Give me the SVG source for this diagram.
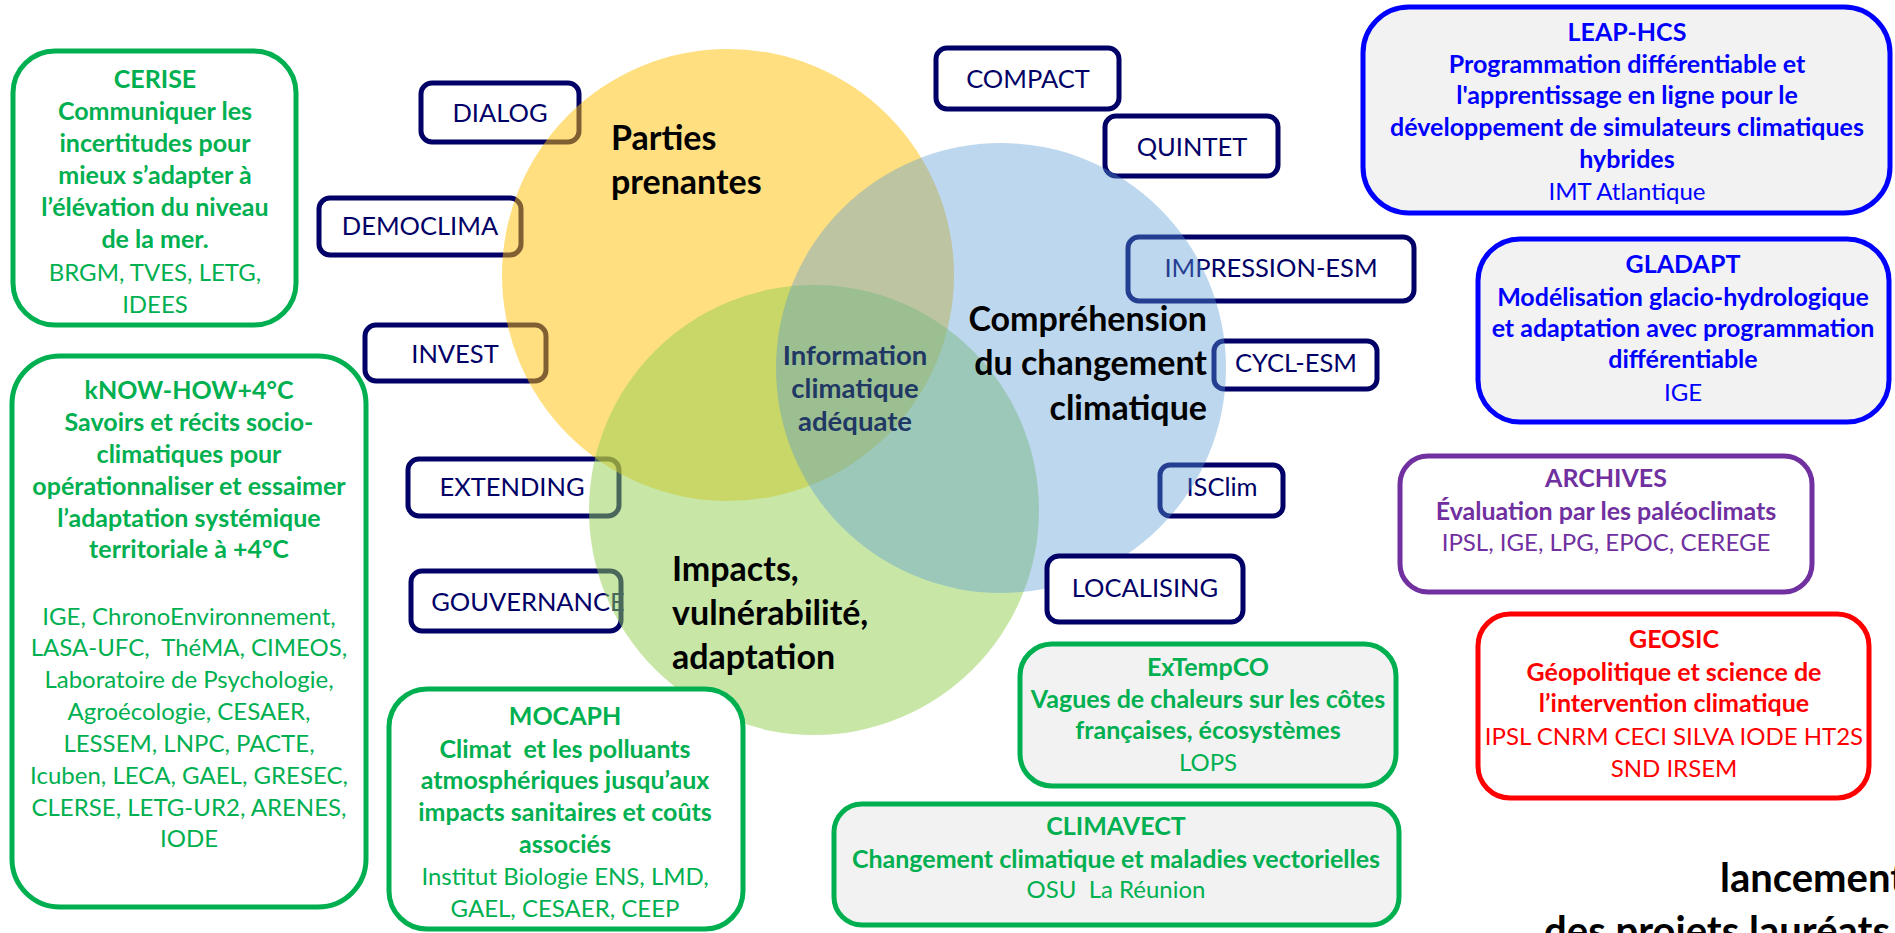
<svg xmlns="http://www.w3.org/2000/svg" width="1895" height="933" viewBox="0 0 1895 933">
<style>
text{font-family:Lato,"Liberation Sans",sans-serif}
.p{font-size:24px;text-anchor:middle}
.b{font-weight:700;font-size:25px}
.lbl{font-size:25.5px;fill:#000066;text-anchor:middle}
.nav{fill:#fff;stroke:#000066;stroke-width:5}
.gr{fill:#00B050}.bl{fill:#0000FF}.pu{fill:#7030A0}.rd{fill:#FF0000}
.gbox{stroke:#00B050;stroke-width:5}
.big{font-size:34px;font-weight:700;fill:#000}
.info{font-size:27.5px;font-weight:700;fill:#1F3864;text-anchor:middle}
.cap{font-size:40px;font-weight:700;fill:#000}
</style>
<rect width="1895" height="933" fill="#fff"/>

<!-- small project boxes beneath the circles -->
<g id="dialog"><rect class="nav" x="421" y="83" width="158" height="59" rx="11"/><text class="lbl" x="500" y="122">DIALOG</text></g>
<g id="democlima"><rect class="nav" x="319" y="198" width="202" height="57" rx="11"/><text class="lbl" x="420" y="235">DEMOCLIMA</text></g>
<g id="invest"><rect class="nav" x="365" y="325" width="181" height="56" rx="11"/><text class="lbl" x="455" y="363">INVEST</text></g>
<g id="extending"><rect class="nav" x="408" y="459" width="211" height="57" rx="11"/><text class="lbl" x="512" y="496">EXTENDING</text></g>
<g id="gouvernance"><rect class="nav" x="411" y="571" width="210" height="60" rx="11"/><text class="lbl" x="528" y="611">GOUVERNANCE</text></g>
<g id="compact"><rect class="nav" x="936" y="48" width="183" height="61" rx="11"/><text class="lbl" x="1028" y="88">COMPACT</text></g>
<g id="quintet"><rect class="nav" x="1105" y="116" width="173" height="60" rx="11"/><text class="lbl" x="1192" y="156">QUINTET</text></g>
<g id="impression-esm"><rect class="nav" x="1128" y="237" width="286" height="64" rx="11"/><text class="lbl" x="1271" y="277">IMPRESSION-ESM</text></g>
<g id="cycl-esm"><rect class="nav" x="1214" y="341" width="163" height="48" rx="10"/><text class="lbl" x="1296" y="372">CYCL-ESM</text></g>
<g id="isclim"><rect class="nav" x="1160" y="465" width="123" height="51" rx="10"/><text class="lbl" x="1222" y="496">ISClim</text></g>

<!-- Venn circles -->
<g id="venn">
<circle cx="728" cy="275" r="226" fill="#FFC000" fill-opacity="0.5"/>
<circle cx="814" cy="510" r="225" fill="#92D050" fill-opacity="0.5"/>
<circle cx="1001" cy="368" r="225" fill="#5B9BD5" fill-opacity="0.4"/>
</g>

<g id="parties-prenantes"><text class="big" x="611" y="150">Parties</text><text class="big" x="611" y="194">prenantes</text></g>
<g id="comprehension"><text class="big" x="1207" y="331" text-anchor="end">Compréhension</text><text class="big" x="1207" y="375" text-anchor="end">du changement</text><text class="big" x="1207" y="420" text-anchor="end">climatique</text></g>
<g id="impacts"><text class="big" x="672" y="581">Impacts,</text><text class="big" x="672" y="625">vulnérabilité,</text><text class="big" x="672" y="669">adaptation</text></g>
<g id="information"><text class="info" x="855" y="365">Information</text><text class="info" x="855" y="398">climatique</text><text class="info" x="855" y="431">adéquate</text></g>

<g id="localising"><rect class="nav" x="1047" y="556" width="196" height="66" rx="12"/><text class="lbl" x="1145" y="597">LOCALISING</text></g>

<!-- large project boxes -->
<g id="cerise"><rect x="13" y="51" width="283" height="274" rx="42" fill="#fff" class="gbox"/>
<g class="p gr"><text class="b" x="155" y="88">CERISE</text><text class="b" x="155" y="120">Communiquer les</text><text class="b" x="155" y="152">incertitudes pour</text><text class="b" x="155" y="184">mieux s’adapter à</text><text class="b" x="155" y="216">l’élévation du niveau</text><text class="b" x="155" y="248">de la mer.</text><text x="155" y="281">BRGM, TVES, LETG,</text><text x="155" y="313">IDEES</text></g></g>

<g id="know-how"><rect x="12" y="356" width="354" height="551" rx="48" fill="#fff" class="gbox"/>
<g class="p gr"><text class="b" x="189" y="399">kNOW-HOW+4°C</text><text class="b" x="189" y="431">Savoirs et récits socio-</text><text class="b" x="189" y="463">climatiques pour</text><text class="b" x="189" y="495">opérationnaliser et essaimer</text><text class="b" x="189" y="527">l’adaptation systémique</text><text class="b" x="189" y="558">territoriale à +4°C</text>
<text x="189" y="625">IGE, ChronoEnvironnement,</text><text x="189" y="656" xml:space="preserve">LASA-UFC,  ThéMA, CIMEOS,</text><text x="189" y="688">Laboratoire de Psychologie,</text><text x="189" y="720">Agroécologie, CESAER,</text><text x="189" y="752">LESSEM, LNPC, PACTE,</text><text x="189" y="784">Icuben, LECA, GAEL, GRESEC,</text><text x="189" y="816">CLERSE, LETG-UR2, ARENES,</text><text x="189" y="847">IODE</text></g></g>

<g id="mocaph"><rect x="389" y="689" width="354" height="240" rx="38" fill="#fff" class="gbox"/>
<g class="p gr"><text class="b" x="565" y="725">MOCAPH</text><text class="b" x="565" y="758" xml:space="preserve">Climat  et les polluants</text><text class="b" x="565" y="789">atmosphériques jusqu’aux</text><text class="b" x="565" y="821">impacts sanitaires et coûts</text><text class="b" x="565" y="853">associés</text><text x="565" y="885">Institut Biologie ENS, LMD,</text><text x="565" y="917">GAEL, CESAER, CEEP</text></g></g>

<g id="extempco"><rect x="1020" y="644" width="376" height="142" rx="32" fill="#F2F2F2" class="gbox"/>
<g class="p gr"><text class="b" x="1208" y="676">ExTempCO</text><text class="b" x="1208" y="708">Vagues de chaleurs sur les côtes</text><text class="b" x="1208" y="739">françaises, écosystèmes</text><text x="1208" y="771">LOPS</text></g></g>

<g id="climavect"><rect x="834" y="804" width="565" height="121" rx="28" fill="#F2F2F2" class="gbox"/>
<g class="p gr"><text class="b" x="1116" y="835">CLIMAVECT</text><text class="b" x="1116" y="868">Changement climatique et maladies vectorielles</text><text x="1116" y="898" xml:space="preserve">OSU  La Réunion</text></g></g>

<g id="leap-hcs"><rect x="1363" y="7" width="527" height="206" rx="46" fill="#F2F2F2" stroke="#0000FF" stroke-width="5"/>
<g class="p bl"><text class="b" x="1627" y="41">LEAP-HCS</text><text class="b" x="1627" y="73">Programmation différentiable et</text><text class="b" x="1627" y="104">l'apprentissage en ligne pour le</text><text class="b" x="1627" y="136">développement de simulateurs climatiques</text><text class="b" x="1627" y="168">hybrides</text><text x="1627" y="200">IMT Atlantique</text></g></g>

<g id="gladapt"><rect x="1478" y="239" width="411" height="183" rx="42" fill="#F2F2F2" stroke="#0000FF" stroke-width="5"/>
<g class="p bl"><text class="b" x="1683" y="273">GLADAPT</text><text class="b" x="1683" y="306">Modélisation glacio-hydrologique</text><text class="b" x="1683" y="337">et adaptation avec programmation</text><text class="b" x="1683" y="368">différentiable</text><text x="1683" y="401">IGE</text></g></g>

<g id="archives"><rect x="1400" y="456" width="412" height="136" rx="28" fill="#fff" stroke="#7030A0" stroke-width="5"/>
<g class="p pu"><text class="b" x="1606" y="487">ARCHIVES</text><text class="b" x="1606" y="520">Évaluation par les paléoclimats</text><text x="1606" y="551">IPSL, IGE, LPG, EPOC, CEREGE</text></g></g>

<g id="geosic"><rect x="1478" y="614" width="391" height="184" rx="32" fill="#fff" stroke="#FF0000" stroke-width="5"/>
<g class="p rd"><text class="b" x="1674" y="648">GEOSIC</text><text class="b" x="1674" y="681">Géopolitique et science de</text><text class="b" x="1674" y="712">l’intervention climatique</text><text x="1674" y="745">IPSL CNRM CECI SILVA IODE HT2S</text><text x="1674" y="777">SND IRSEM</text></g></g>

<g id="caption"><text class="cap" x="1720" y="892">lancement</text><text class="cap" x="1890" y="945" text-anchor="end">des projets lauréats</text></g>
</svg>
